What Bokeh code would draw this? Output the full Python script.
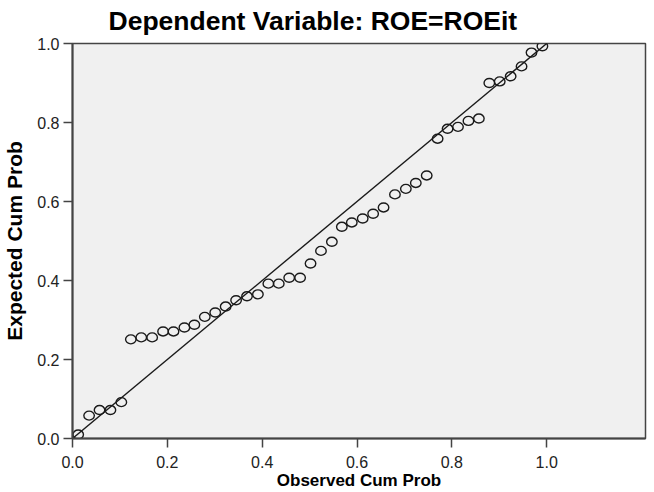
from bokeh.plotting import figure
from bokeh.models import Range1d, FixedTicker, NumeralTickFormatter
from bokeh.embed import file_html
from bokeh.resources import INLINE

# ---- data ----
observed_cum_prob = [0.012, 0.035, 0.057, 0.080, 0.103, 0.123, 0.145, 0.168, 0.191,
                     0.213, 0.236, 0.257, 0.279, 0.301, 0.323, 0.345, 0.368, 0.391,
                     0.413, 0.435, 0.457, 0.480, 0.502, 0.524, 0.547, 0.568, 0.589,
                     0.612, 0.634, 0.656, 0.680, 0.703, 0.724, 0.747, 0.770, 0.791,
                     0.813, 0.835, 0.857, 0.879, 0.901, 0.924, 0.947, 0.968, 0.991]
expected_cum_prob = [0.010, 0.058, 0.072, 0.072, 0.092, 0.251, 0.256, 0.256, 0.271,
                     0.271, 0.281, 0.288, 0.308, 0.319, 0.334, 0.350, 0.360, 0.365,
                     0.392, 0.392, 0.407, 0.407, 0.443, 0.475, 0.498, 0.536, 0.547,
                     0.557, 0.569, 0.585, 0.618, 0.632, 0.647, 0.666, 0.759, 0.784,
                     0.789, 0.804, 0.810, 0.900, 0.904, 0.917, 0.942, 0.977, 0.993]
reference_line = [0.0, 1.0]
x_ticks = [0.0, 0.2, 0.4, 0.6, 0.8, 1.0]
y_ticks = [0.0, 0.2, 0.4, 0.6, 0.8, 1.0]
title_text = "Dependent Variable: ROE=ROEit"
x_label_text = "Observed Cum Prob"
y_label_text = "Expected Cum Prob"

FONT = "Liberation Sans"
INK = "#1a1a1a"
FRAME = "#444444"

p = figure(width=654, height=492, output_backend="svg", toolbar_location=None,
           x_range=Range1d(0, 1.2084), y_range=Range1d(0, 1.0),
           min_border_left=71, min_border_right=9, min_border_top=40, min_border_bottom=53)

p.background_fill_color = "#f0f0f0"
p.border_fill_color = "white"
p.outline_line_color = FRAME
p.outline_line_width = 1.5
p.xgrid.visible = False
p.ygrid.visible = False

# title
p.title.text = title_text
p.title.text_font = FONT
p.title.text_font_style = "bold"
p.title.text_font_size = "26.5px"
p.title.text_color = "black"
p.title.align = "left"
p.title.offset = 36
p.title.standoff = 11
p.title.text_line_height = 0.75
p.title.vertical_align = "top"

for ax, ticks in ((p.xaxis[0], x_ticks), (p.yaxis[0], y_ticks)):
    ax.ticker = FixedTicker(ticks=ticks)
    ax.formatter = NumeralTickFormatter(format="0.0")
    ax.major_tick_out = 9
    ax.major_tick_in = 0
    ax.minor_tick_out = 0
    ax.minor_tick_in = 0
    ax.major_tick_line_color = FRAME
    ax.major_tick_line_width = 1.5
    ax.axis_line_color = FRAME
    ax.axis_line_width = 2
    ax.major_label_text_font = FONT
    ax.major_label_text_color = "#222222"
    ax.major_label_text_font_size = "16px"
    ax.axis_label_text_font = FONT
    ax.axis_label_text_font_style = "bold"
    ax.axis_label_text_color = "black"

p.xaxis.major_label_standoff = 8
p.xaxis.axis_label = x_label_text
p.xaxis.axis_label_text_font_size = "17px"
p.xaxis.axis_label_standoff = 0

p.yaxis.major_label_standoff = 4
p.yaxis.axis_label = y_label_text
p.yaxis.axis_label_text_font_size = "21px"
p.yaxis.axis_label_standoff = 8

# diagonal reference line
p.line(reference_line, reference_line, line_color=INK, line_width=1.4)

# hollow markers (slightly wider than tall, as in the reference)
p.ellipse(x=observed_cum_prob, y=expected_cum_prob, width=10.5, height=9,
          width_units="screen", height_units="screen",
          fill_color=None, line_color=INK, line_width=1.4)

open("out.html", "w").write(file_html(p, INLINE))
